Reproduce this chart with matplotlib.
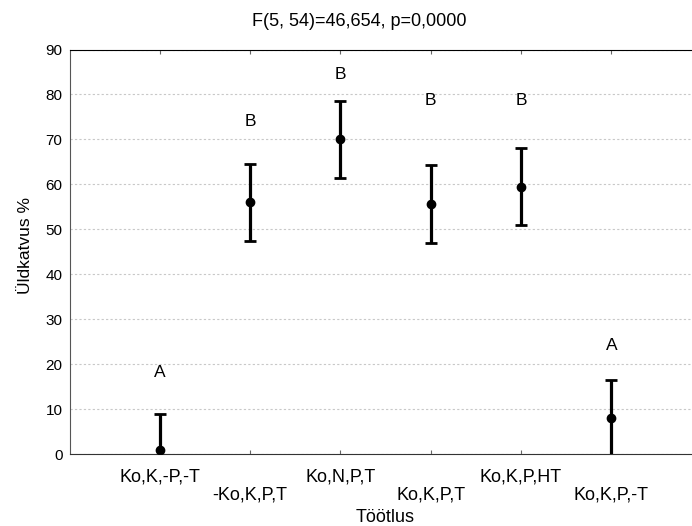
import matplotlib
matplotlib.use("Agg")
import matplotlib.pyplot as plt

plt.rcParams['font.family'] = ['Liberation Sans', 'DejaVu Sans']

categories = ["Ko,K,-P,-T", "-Ko,K,P,T", "Ko,N,P,T", "Ko,K,P,T", "Ko,K,P,HT", "Ko,K,P,-T"]
means = [0.9, 56.0, 70.0, 55.6, 59.5, 8.0]
ci_half = [8.1, 8.6, 8.6, 8.6, 8.6, 8.5]
group_letters = ["A", "B", "B", "B", "B", "A"]
letter_y = [18.1, 73.9, 84.5, 78.7, 78.7, 24.2]

fig = plt.figure(figsize=(6.92, 5.26), dpi=100)
ax = fig.add_axes([69.5/692, 1-454/526, (701.6-69.5)/692, (454-49.5)/526])

xs = list(range(1, len(categories)+1))
ax.errorbar(xs, means, yerr=ci_half, fmt='o', color='black', ms=6,
            elinewidth=2.3, capsize=4, capthick=2, zorder=3, clip_on=True)

for x, l, y in zip(xs, group_letters, letter_y):
    ax.text(x, y, l, ha='center', va='center', fontsize=12.5)

ax.set_xlim(0, 7)
ax.set_ylim(0, 90)
ax.set_yticks(range(0, 91, 10))
ax.set_xticks(xs)
ax.set_xticklabels([])
for i, (x, c) in enumerate(zip(xs, categories)):
    ax.text(x, -5.2 if i % 2 == 0 else -9.2, c, ha='center', va='center', fontsize=13,
            transform=ax.transData, clip_on=False)

ax.yaxis.grid(True, linestyle=(0, (2, 2)), color='#c8c8c8', linewidth=0.8)
ax.set_axisbelow(True)
ax.tick_params(axis='y', length=0, labelsize=11, pad=5)
ax.tick_params(axis='x', direction='in', length=3, color='#666666', top=True)
ax.spines['right'].set_visible(False)
ax.spines['top'].set_color('black')
ax.spines['left'].set_color('#555555')
ax.spines['bottom'].set_color('#333333')

fig.text(25/692, 1-246/526, "Üldkatvus %", ha='center', va='center', rotation=90, fontsize=12.5)
fig.text(385/692, 1-518/526, "Töötlus", ha='center', va='center', fontsize=13)
fig.text(359/692, 1-22/526, "F(5, 54)=46,654, p=0,0000", ha='center', va='center', fontsize=13)

fig.savefig("out.png", dpi=100)
